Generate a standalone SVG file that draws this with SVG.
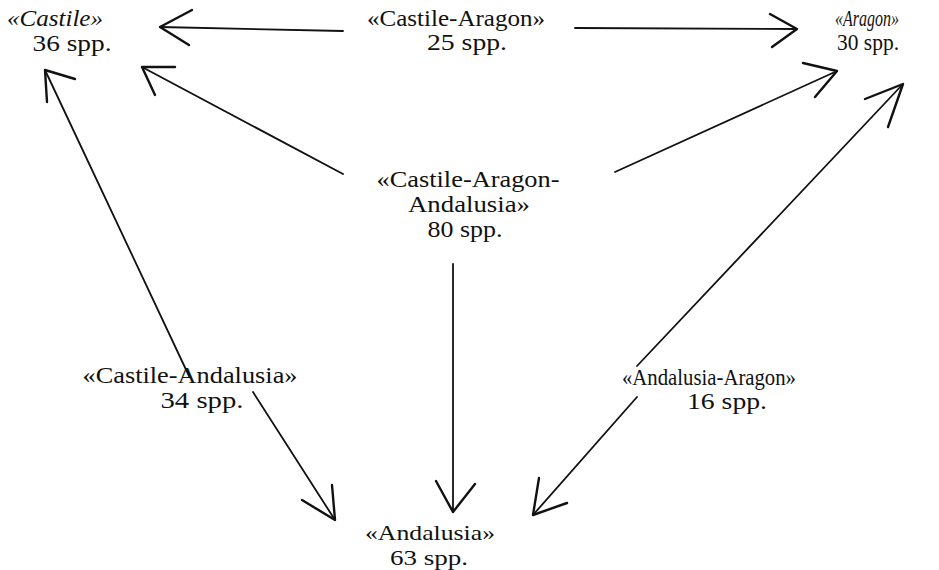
<svg xmlns="http://www.w3.org/2000/svg" width="939" height="570" viewBox="0 0 939 570" xml:space="preserve">
<style>
text{font-family:'Liberation Serif','DejaVu Serif','Times New Roman',serif;font-size:23px;fill:#111;text-anchor:middle;}
.it{font-style:italic;}
.sm{font-size:22px;}
.ln{stroke:#111;stroke-width:1.8;fill:none;stroke-linecap:round;}
.hd{stroke:#111;stroke-width:2.4;fill:none;stroke-linecap:round;stroke-linejoin:round;}
</style>
<rect width="939" height="570" fill="#fff"/>
<g id="connectors">
<g id="e-ca-castile"><line class="ln" x1="343" y1="31" x2="160" y2="27"/><polyline class="hd" points="192,10 160,27 189,45"/></g>
<g id="e-ca-aragon"><line class="ln" x1="575" y1="28" x2="797" y2="29"/><polyline class="hd" points="770,14 797,29 772,47"/></g>
<g id="e-caa-castile"><line class="ln" x1="343" y1="174" x2="142" y2="67"/><polyline class="hd" points="175,67 142,67 155,95"/></g>
<g id="e-caa-aragon"><line class="ln" x1="615" y1="172" x2="837" y2="71"/><polyline class="hd" points="803,63 837,71 815,97"/></g>
<g id="e-can-castile"><line class="ln" x1="189" y1="376" x2="45" y2="70"/><polyline class="hd" points="75,79 45,70 47,102"/></g>
<g id="e-ana-aragon"><line class="ln" x1="637" y1="366" x2="903" y2="84"/><polyline class="hd" points="865,99 903,84 888,127"/></g>
<g id="e-can-andalusia"><line class="ln" x1="253" y1="392" x2="335" y2="520"/><polyline class="hd" points="302,500 335,520 332,485"/></g>
<g id="e-caa-andalusia"><line class="ln" x1="453" y1="264" x2="453" y2="512"/><polyline class="hd" points="436,481 453,512 475,484"/></g>
<g id="e-ana-andalusia"><line class="ln" x1="637" y1="397" x2="533" y2="515"/><polyline class="hd" points="539,478 533,515 567,503"/></g>
</g>
<g id="castile"><text class="it" x="55" y="26" textLength="96" lengthAdjust="spacingAndGlyphs">«Castile»</text><text x="72" y="51" textLength="79" lengthAdjust="spacingAndGlyphs">36  spp.</text></g>
<g id="castile-aragon"><text x="456" y="26" textLength="178" lengthAdjust="spacingAndGlyphs">«Castile-Aragon»</text><text x="467" y="50" textLength="80" lengthAdjust="spacingAndGlyphs">25  spp.</text></g>
<g id="aragon"><text class="it" x="867" y="26" textLength="64" lengthAdjust="spacingAndGlyphs">«Aragon»</text><text x="868" y="50" textLength="62" lengthAdjust="spacingAndGlyphs">30  spp.</text></g>
<g id="castile-aragon-andalusia"><text x="468" y="187" textLength="183" lengthAdjust="spacingAndGlyphs">«Castile-Aragon-</text><text x="469" y="212" textLength="122" lengthAdjust="spacingAndGlyphs">Andalusia»</text><text x="465" y="237" textLength="75" lengthAdjust="spacingAndGlyphs">80  spp.</text></g>
<g id="castile-andalusia"><text x="190" y="383" textLength="215" lengthAdjust="spacingAndGlyphs">«Castile-Andalusia»</text><text x="202" y="408" textLength="83" lengthAdjust="spacingAndGlyphs">34  spp.</text></g>
<g id="andalusia-aragon"><text x="709" y="385" textLength="174" lengthAdjust="spacingAndGlyphs">«Andalusia-Aragon»</text><text x="727" y="409" textLength="80" lengthAdjust="spacingAndGlyphs">16  spp.</text></g>
<g id="andalusia"><text class="sm" x="430" y="540" textLength="130" lengthAdjust="spacingAndGlyphs">«Andalusia»</text><text class="sm" x="429" y="565" textLength="78" lengthAdjust="spacingAndGlyphs">63  spp.</text></g>
</svg>
